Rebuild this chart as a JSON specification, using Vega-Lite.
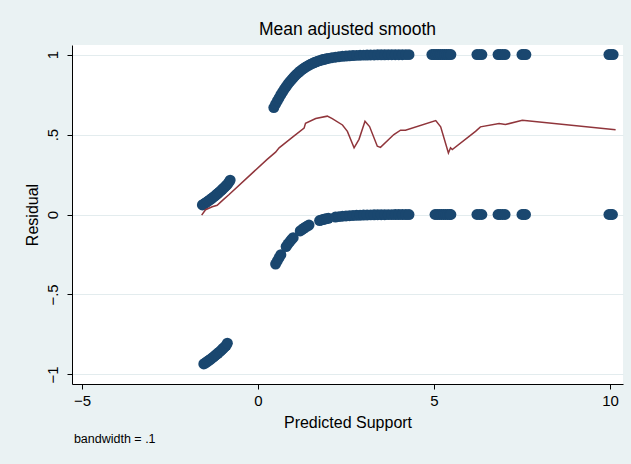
{
  "$schema": "https://vega.github.io/schema/vega-lite/v6.json",
  "width": 551,
  "height": 339,
  "autosize": {"type": "none"},
  "padding": {"left": 72, "top": 45, "right": 8, "bottom": 80},
  "background": "#eaf2f3",
  "config": {
    "view": {"stroke": null, "fill": "#ffffff"},
    "font": "Liberation Sans",
    "axis": {
      "labelFont": "Liberation Sans", "titleFont": "Liberation Sans",
      "labelColor": "#000000", "titleColor": "#000000",
      "domainColor": "#000000", "tickColor": "#000000",
      "domainWidth": 1, "tickWidth": 1, "tickSize": 5,
      "labelFontSize": 15, "titleFontSize": 16, "titleFontWeight": "normal"
    }
  },
  "title": {
    "text": "Mean adjusted smooth",
    "fontSize": 17.5, "fontWeight": "normal", "font": "Liberation Sans",
    "color": "#000000", "anchor": "middle", "baseline": "alphabetic", "offset": -7
  },
  "datasets": {
    "pts": [
      {"x": -1.58, "y": 0.06}, {"x": -1.54, "y": 0.0655}, {"x": -1.50, "y": 0.0712}, {"x": -1.46, "y": 0.0771},
      {"x": -1.42, "y": 0.0833}, {"x": -1.38, "y": 0.0896}, {"x": -1.34, "y": 0.0962}, {"x": -1.30, "y": 0.1029},
      {"x": -1.26, "y": 0.1099}, {"x": -1.22, "y": 0.1171}, {"x": -1.18, "y": 0.1245}, {"x": -1.14, "y": 0.1321},
      {"x": -1.10, "y": 0.1399}, {"x": -1.06, "y": 0.1479}, {"x": -1.02, "y": 0.1562}, {"x": -0.98, "y": 0.1646},
      {"x": -0.94, "y": 0.1733}, {"x": -0.90, "y": 0.1821}, {"x": -0.86, "y": 0.1912}, {"x": -0.82, "y": 0.2035},
      {"x": -0.79, "y": 0.215},
      {"x": -1.54, "y": -0.9345}, {"x": -1.50, "y": -0.9288}, {"x": -1.46, "y": -0.9229}, {"x": -1.42, "y": -0.9167},
      {"x": -1.38, "y": -0.9104}, {"x": -1.34, "y": -0.9038}, {"x": -1.30, "y": -0.8971}, {"x": -1.26, "y": -0.8901},
      {"x": -1.22, "y": -0.8829}, {"x": -1.18, "y": -0.8755}, {"x": -1.14, "y": -0.8679}, {"x": -1.10, "y": -0.8601},
      {"x": -1.06, "y": -0.8521}, {"x": -1.02, "y": -0.8438}, {"x": -0.98, "y": -0.8354}, {"x": -0.94, "y": -0.8267},
      {"x": -0.90, "y": -0.8179}, {"x": -0.87, "y": -0.805},
      {"x": 0.45, "y": 0.669}, {"x": 0.5, "y": 0.69}, {"x": 0.55, "y": 0.7104}, {"x": 0.6, "y": 0.7301},
      {"x": 0.65, "y": 0.7489}, {"x": 0.7, "y": 0.7667}, {"x": 0.75, "y": 0.7837}, {"x": 0.8, "y": 0.7998},
      {"x": 0.85, "y": 0.8149}, {"x": 0.9, "y": 0.8292}, {"x": 0.95, "y": 0.8426}, {"x": 1.0, "y": 0.8551},
      {"x": 1.05, "y": 0.8668}, {"x": 1.1, "y": 0.8776}, {"x": 1.15, "y": 0.8877}, {"x": 1.2, "y": 0.8971},
      {"x": 1.25, "y": 0.9057}, {"x": 1.3, "y": 0.9137}, {"x": 1.35, "y": 0.9211}, {"x": 1.4, "y": 0.9279},
      {"x": 1.45, "y": 0.9342}, {"x": 1.5, "y": 0.9399}, {"x": 1.55, "y": 0.9452}, {"x": 1.6, "y": 0.95},
      {"x": 1.65, "y": 0.9545}, {"x": 1.7, "y": 0.9585}, {"x": 1.75, "y": 0.9622}, {"x": 1.8, "y": 0.9656},
      {"x": 1.85, "y": 0.9687}, {"x": 1.9, "y": 0.9715}, {"x": 1.95, "y": 0.9741}, {"x": 2.0, "y": 0.9765},
      {"x": 2.1, "y": 0.9805}, {"x": 2.2, "y": 0.9839}, {"x": 2.3, "y": 0.9867}, {"x": 2.4, "y": 0.9891},
      {"x": 2.5, "y": 0.991}, {"x": 2.6, "y": 0.9926}, {"x": 2.7, "y": 0.9939}, {"x": 2.8, "y": 0.995},
      {"x": 2.9, "y": 0.9959}, {"x": 3.0, "y": 0.9966}, {"x": 3.1, "y": 0.9972}, {"x": 3.2, "y": 0.9977},
      {"x": 3.3, "y": 0.9981}, {"x": 3.4, "y": 0.9985}, {"x": 3.5, "y": 0.9988}, {"x": 3.6, "y": 0.999},
      {"x": 3.7, "y": 0.9992}, {"x": 3.8, "y": 0.9993}, {"x": 3.9, "y": 0.9994}, {"x": 4.0, "y": 0.9995},
      {"x": 4.1, "y": 0.9996}, {"x": 4.2, "y": 0.9997}, {"x": 4.29, "y": 0.9997},
      {"x": 4.94, "y": 1}, {"x": 5.0, "y": 1}, {"x": 5.06, "y": 1}, {"x": 5.12, "y": 1}, {"x": 5.18, "y": 1},
      {"x": 5.24, "y": 1}, {"x": 5.3, "y": 1}, {"x": 5.36, "y": 1}, {"x": 5.42, "y": 1}, {"x": 5.48, "y": 1},
      {"x": 6.22, "y": 1}, {"x": 6.29, "y": 1}, {"x": 6.36, "y": 1},
      {"x": 6.82, "y": 1}, {"x": 6.88, "y": 1}, {"x": 6.95, "y": 1}, {"x": 7.02, "y": 1},
      {"x": 7.5, "y": 1}, {"x": 7.55, "y": 1}, {"x": 7.61, "y": 1},
      {"x": 9.97, "y": 1}, {"x": 10.03, "y": 1}, {"x": 10.09, "y": 1},
      {"x": 0.5, "y": -0.31}, {"x": 0.55, "y": -0.2896}, {"x": 0.6, "y": -0.2699}, {"x": 0.65, "y": -0.2511},
      {"x": 0.8, "y": -0.2002}, {"x": 0.85, "y": -0.1851}, {"x": 0.9, "y": -0.1708}, {"x": 0.95, "y": -0.1574}, {"x": 1.0, "y": -0.1449},
      {"x": 1.2, "y": -0.1029}, {"x": 1.25, "y": -0.0943}, {"x": 1.3, "y": -0.0863}, {"x": 1.35, "y": -0.0789},
      {"x": 1.4, "y": -0.0721}, {"x": 1.45, "y": -0.0658},
      {"x": 1.75, "y": -0.0378}, {"x": 1.8, "y": -0.0344}, {"x": 1.85, "y": -0.0313}, {"x": 1.9, "y": -0.0285},
      {"x": 1.95, "y": -0.0259}, {"x": 2.0, "y": -0.0235},
      {"x": 2.2, "y": -0.0161}, {"x": 2.3, "y": -0.0133}, {"x": 2.4, "y": -0.0109}, {"x": 2.5, "y": -0.009},
      {"x": 2.6, "y": -0.0074}, {"x": 2.7, "y": -0.0061}, {"x": 2.8, "y": -0.005}, {"x": 2.9, "y": -0.0041},
      {"x": 3.0, "y": -0.0034}, {"x": 3.1, "y": -0.0028}, {"x": 3.2, "y": -0.0023}, {"x": 3.3, "y": -0.0019},
      {"x": 3.4, "y": -0.0015}, {"x": 3.5, "y": -0.0012}, {"x": 3.6, "y": -0.001}, {"x": 3.7, "y": -0.0008},
      {"x": 3.8, "y": -0.0007}, {"x": 3.9, "y": -0.0006}, {"x": 4.0, "y": -0.0005}, {"x": 4.1, "y": -0.0004},
      {"x": 4.2, "y": -0.0003}, {"x": 4.29, "y": -0.0003},
      {"x": 5.03, "y": 0}, {"x": 5.09, "y": 0}, {"x": 5.15, "y": 0}, {"x": 5.21, "y": 0}, {"x": 5.27, "y": 0},
      {"x": 5.33, "y": 0}, {"x": 5.39, "y": 0}, {"x": 5.45, "y": 0}, {"x": 5.48, "y": 0},
      {"x": 6.22, "y": 0}, {"x": 6.29, "y": 0}, {"x": 6.36, "y": 0},
      {"x": 6.82, "y": 0}, {"x": 6.88, "y": 0}, {"x": 6.95, "y": 0}, {"x": 7.02, "y": 0},
      {"x": 7.5, "y": 0}, {"x": 7.55, "y": 0}, {"x": 7.6, "y": 0},
      {"x": 9.97, "y": 0}, {"x": 10.03, "y": 0}, {"x": 10.07, "y": 0}
    ],
    "smooth": [
      {"x": -1.6, "y": -0.004}, {"x": -1.49, "y": 0.03}, {"x": -1.3, "y": 0.048}, {"x": -1.16, "y": 0.058},
      {"x": -1.0, "y": 0.09}, {"x": -0.82, "y": 0.125}, {"x": 0.26, "y": 0.345}, {"x": 0.5, "y": 0.39},
      {"x": 0.6, "y": 0.417}, {"x": 1.0, "y": 0.487}, {"x": 1.31, "y": 0.54}, {"x": 1.35, "y": 0.57},
      {"x": 1.64, "y": 0.60}, {"x": 1.97, "y": 0.615}, {"x": 2.11, "y": 0.60}, {"x": 2.4, "y": 0.56},
      {"x": 2.54, "y": 0.52}, {"x": 2.73, "y": 0.417}, {"x": 2.87, "y": 0.47}, {"x": 3.04, "y": 0.583},
      {"x": 3.17, "y": 0.55}, {"x": 3.39, "y": 0.427}, {"x": 3.48, "y": 0.42}, {"x": 3.86, "y": 0.50},
      {"x": 4.05, "y": 0.527}, {"x": 4.19, "y": 0.527}, {"x": 5.05, "y": 0.587}, {"x": 5.19, "y": 0.548},
      {"x": 5.41, "y": 0.385}, {"x": 5.47, "y": 0.417}, {"x": 5.52, "y": 0.406}, {"x": 6.18, "y": 0.52},
      {"x": 6.32, "y": 0.548}, {"x": 6.85, "y": 0.569}, {"x": 7.03, "y": 0.5625}, {"x": 7.51, "y": 0.59},
      {"x": 10.16, "y": 0.53}
    ],
    "note": [{"label": "bandwidth = .1"}]
  },
  "layer": [
    {
      "data": {"name": "pts"},
      "mark": {"type": "circle", "size": 120, "opacity": 1, "color": "#1a476f"},
      "encoding": {
        "x": {
          "field": "x", "type": "quantitative",
          "scale": {"domain": [-5.284, 10.37], "nice": false, "zero": false},
          "axis": {
            "values": [-5, 0, 5, 10], "grid": false,
            "title": "Predicted Support", "titlePadding": 6,
            "labelPadding": 4, "labelFlush": false,
            "labelExpr": "datum.value < 0 ? '−' + abs(datum.value) : '' + datum.value"
          }
        },
        "y": {
          "field": "y", "type": "quantitative",
          "scale": {"domain": [-1.06, 1.06], "nice": false, "zero": false},
          "axis": {
            "values": [-1, -0.5, 0, 0.5, 1], "grid": true, "gridColor": "#e3ecee", "gridWidth": 1,
            "title": "Residual", "titlePadding": 5,
            "labelAngle": -90, "labelAlign": "center", "labelBaseline": "bottom", "labelPadding": 7,
            "labelFlush": false,
            "labelExpr": "datum.value == 1 ? '1' : datum.value == 0.5 ? '.5' : datum.value == 0 ? '0' : datum.value == -0.5 ? '−.5' : '−1'"
          }
        }
      }
    },
    {
      "data": {"name": "smooth"},
      "mark": {"type": "line", "color": "#90353b", "strokeWidth": 1.5},
      "encoding": {
        "x": {"field": "x", "type": "quantitative"},
        "y": {"field": "y", "type": "quantitative"}
      }
    },
    {
      "data": {"name": "note"},
      "mark": {"type": "text", "align": "left", "baseline": "alphabetic", "fontSize": 12.5, "font": "Liberation Sans", "color": "#000000", "clip": false},
      "encoding": {
        "x": {"datum": -5.23, "type": "quantitative"},
        "y": {"datum": -1.43, "type": "quantitative"},
        "text": {"field": "label"}
      }
    }
  ]
}
